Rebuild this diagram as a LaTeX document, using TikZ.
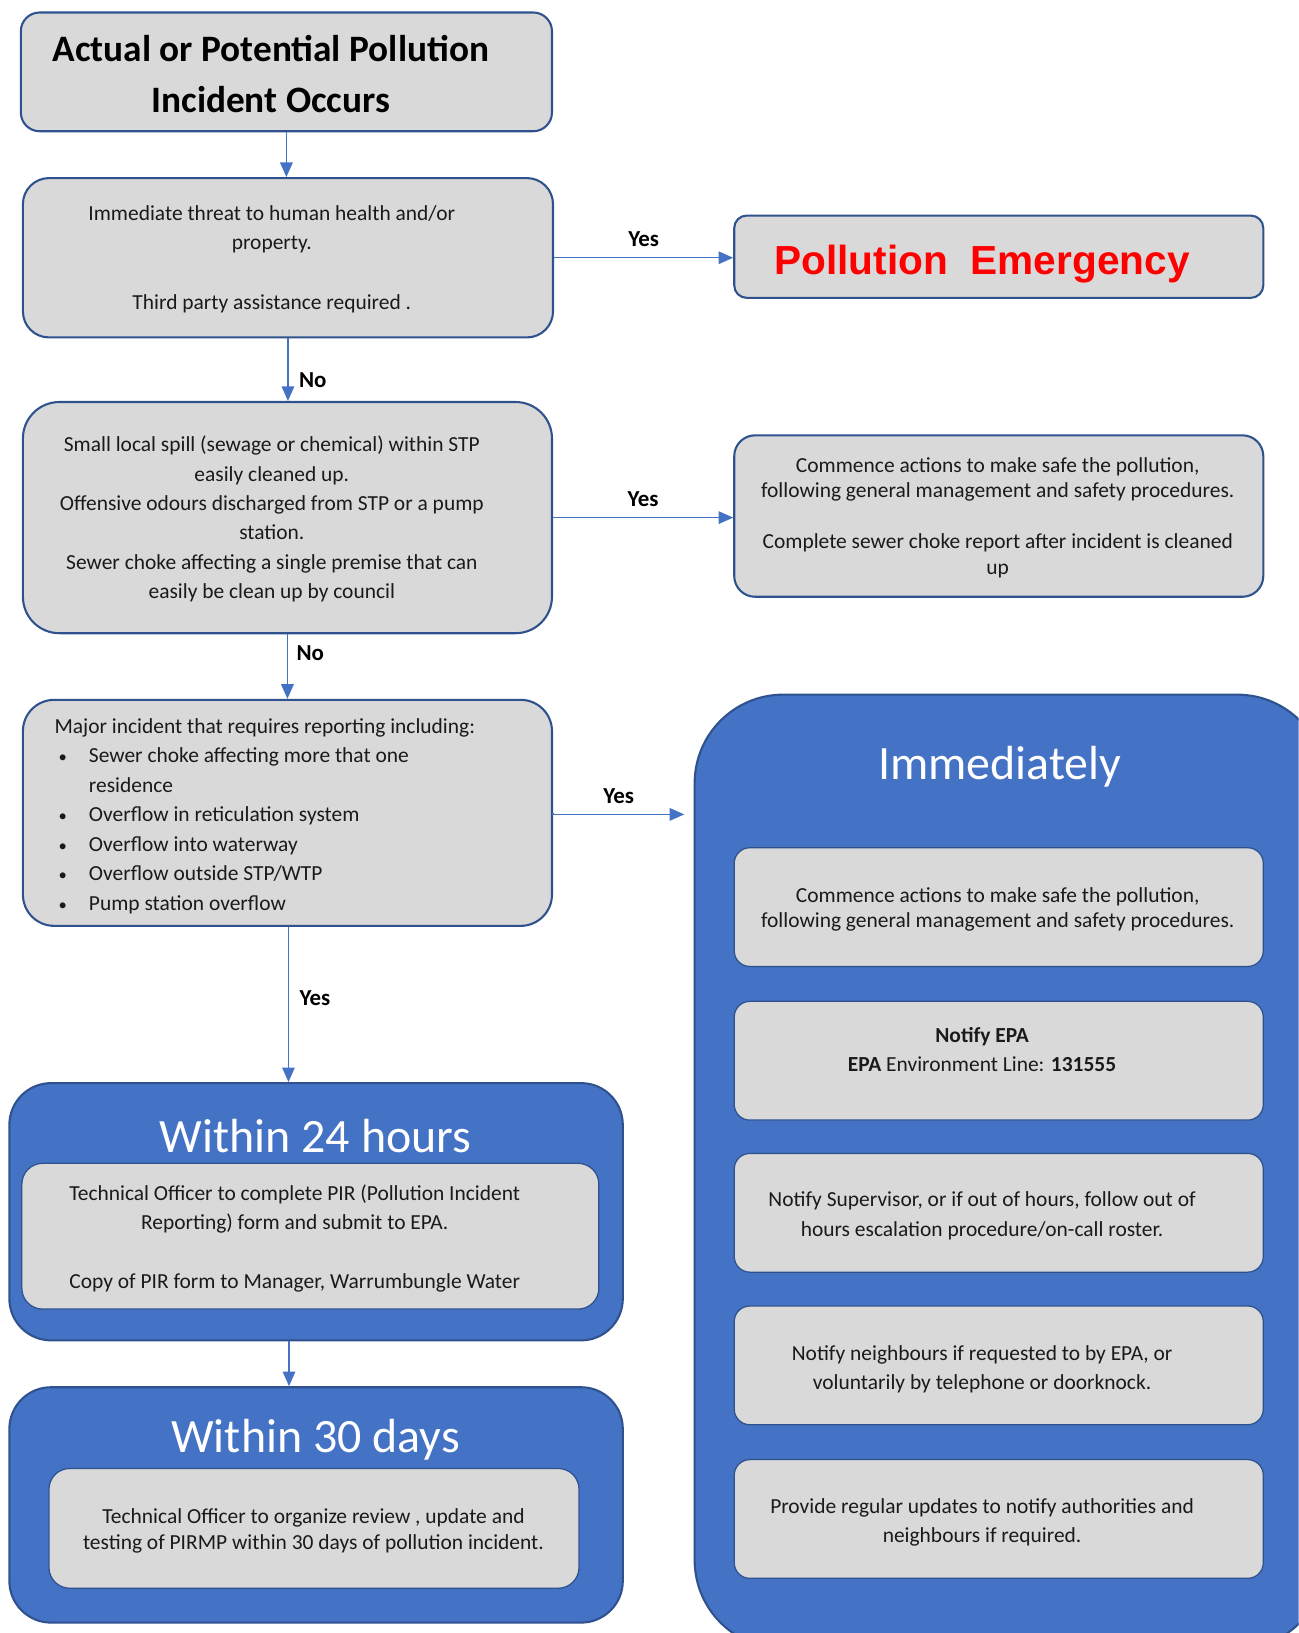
\documentclass[tikz,border=0pt]{standalone}
\usepackage{fontspec}
\setmainfont{Carlito}
\newfontfamily\arialfont{Liberation Sans}
\usetikzlibrary{arrows.meta}
\definecolor{boxgray}{HTML}{D9D9D9}
\definecolor{boxline}{HTML}{2F528F}
\definecolor{fillblue}{HTML}{4472C4}
\definecolor{arrowblue}{HTML}{4472C4}
\definecolor{pered}{HTML}{FF0000}
\definecolor{txtgray}{HTML}{1A1A1A}
\newcommand{\blt}{\hspace*{2pt}\makebox[14.5pt][l]{\fontsize{8}{8}\selectfont\textbullet}}
\begin{document}
\begin{tikzpicture}[x=0.5pt,y=-0.5pt,
  graybox/.style={rectangle, fill=boxgray, draw=boxline, line width=1pt, inner sep=0pt},
  innerbox/.style={rectangle, fill=boxgray, draw=boxline, line width=0.6pt, inner sep=0pt, rounded corners=7.5pt, minimum width=254pt, minimum height=57pt},
  bluebox/.style={rectangle, fill=fillblue, draw=boxline, line width=1pt, inner sep=0pt},
  body/.style={inner sep=0pt, align=center, text=txtgray},
  head/.style={inner sep=0pt, text=white, font=\fontsize{23}{27}\selectfont},
  lbl/.style={inner sep=0pt, font=\fontsize{11}{13}\selectfont\bfseries},
  arr/.style={draw=arrowblue, line width=0.7pt, -{Triangle[length=7pt,width=6pt]}}
]
\clip (0,0) rectangle (1247,1568);
\fill[white] (0,0) rectangle (1247,1568);

% ---- left column boxes
\node[graybox, rounded corners=9pt, minimum width=255pt, minimum height=57pt] (b1) at (275,69) {};
\node[body, font=\fontsize{17.9}{24.5}\selectfont\bfseries, text=black] (t1) at (260,71.5)
  {Actual or Potential Pollution\\Incident Occurs};

\node[graybox, rounded corners=12.5pt, minimum width=254.5pt, minimum height=76.5pt] (b2) at (276.5,247.5) {};
\node[body, font=\fontsize{10.3}{14.25}\selectfont] (t2) at (261,248.5)
  {Immediate threat to human health and/or\\property.\\\mbox{}\\Third party assistance required .};

\node[graybox, rounded corners=6pt, minimum width=254pt, minimum height=39.5pt] (pe) at (959,246.5) {};
\node[inner sep=0pt, font=\arialfont\fontsize{19.5}{23}\selectfont\bfseries, text=pered] (tpe) at (943,253.5)
  {Pollution\ \ Emergency};

\node[graybox, rounded corners=17.5pt, minimum width=254pt, minimum height=111pt] (b3) at (276,497) {};
\node[body, font=\fontsize{10.3}{14.1}\selectfont] (t3) at (261,498.5)
  {Small local spill (sewage or chemical) within STP\\easily cleaned up.\\Offensive odours discharged from STP or a pump\\station.\\Sewer choke affecting a single premise that can\\easily be clean up by council};

\node[graybox, rounded corners=10pt, minimum width=254pt, minimum height=77.5pt] (b4) at (959,495.5) {};
\node[body, font=\fontsize{10.3}{12.25}\selectfont] (t4) at (958,497)
  {Commence actions to make safe the pollution,\\following general management and safety procedures.\\\mbox{}\\Complete sewer choke report after incident is cleaned\\up};

\node[graybox, rounded corners=15pt, minimum width=254pt, minimum height=108.5pt] (b5) at (276,780.5) {};
\node[inner sep=0pt, align=left, text=txtgray, font=\fontsize{10.3}{14.15}\selectfont, anchor=west] (t5) at (52,783.5)
  {Major incident that requires reporting including:\\
   \blt Sewer choke affecting more that one\\
   \hspace*{16.5pt}residence\\
   \blt Overflow in reticulation system\\
   \blt Overflow into waterway\\
   \blt Overflow outside STP/WTP\\
   \blt Pump station overflow};

% ---- within 24 hours
\node[bluebox, rounded corners=20pt, minimum width=294.5pt, minimum height=123.5pt] (b24) at (303.5,1163.5) {};
\node[head] (h24) at (303,1091) {Within 24 hours};
\node[graybox, line width=0.6pt, rounded corners=10pt, minimum width=277pt, minimum height=70pt] (i24) at (298,1187) {};
\node[body, font=\fontsize{10.3}{14.15}\selectfont] (t24) at (283,1189)
  {Technical Officer to complete PIR (Pollution Incident\\Reporting) form and submit to EPA.\\\mbox{}\\Copy of PIR form to Manager, Warrumbungle Water};

% ---- within 30 days
\node[bluebox, rounded corners=20pt, minimum width=294.5pt, minimum height=113pt] (b30) at (303.5,1445) {};
\node[head] (h30) at (303,1382.5) {Within 30 days};
\node[graybox, line width=0.6pt, rounded corners=10pt, minimum width=254.5pt, minimum height=57.5pt] (i30) at (301.5,1467.5) {};
\node[body, font=\fontsize{10.3}{12.5}\selectfont] (t30) at (301,1470)
  {Technical Officer to organize review , update and\\testing of PIRMP within 30 days of pollution incident.};

% ---- immediately
\node[bluebox, rounded corners=42.5pt, minimum width=303pt, minimum height=458pt] (bim) at (970,1125) {};
\node[head] (him) at (960,736) {Immediately};
\node[innerbox] (ia) at (959,871) {};
\node[body, font=\fontsize{10.3}{12}\selectfont] (ta) at (958,873.5)
  {Commence actions to make safe the pollution,\\following general management and safety procedures.};
\node[innerbox] (ib) at (959,1018.5) {};
\node[body, font=\fontsize{10.3}{14}\selectfont] (tb) at (943,1007.5)
  {\textbf{Notify EPA}\\\textbf{EPA} Environment Line: \textbf{131555}};
\node[innerbox] (ic) at (959,1164.5) {};
\node[body, font=\fontsize{10.3}{14.5}\selectfont] (tc) at (943,1167)
  {Notify Supervisor, or if out of hours, follow out of\\hours escalation procedure/on-call roster.};
\node[innerbox] (id) at (959,1311) {};
\node[body, font=\fontsize{10.3}{14}\selectfont] (td) at (943,1314.5)
  {Notify neighbours if requested to by EPA, or\\voluntarily by telephone or doorknock.};
\node[innerbox] (ie) at (959,1458.5) {};
\node[body, font=\fontsize{10.3}{14}\selectfont] (te) at (943,1461.5)
  {Provide regular updates to notify authorities and\\neighbours if required.};

% ---- connectors
\coordinate (imin) at (657,782);
\draw[arr] (b1.south) -- (b1.south |- b2.north);
\draw[arr] (b2.east) -- (b2.east -| pe.west)
  node[lbl, midway, above=5pt] (l1) {Yes};
\draw[arr] (b2.south) -- (b2.south |- b3.north)
  node[lbl, pos=0.67, right=5pt] (l2) {No};
\draw[arr] (b3.east) -- (b3.east -| b4.west)
  node[lbl, midway, above=5pt] (l3) {Yes};
\draw[arr] (b3.south) -- (b3.south |- b5.north)
  node[lbl, pos=0.3, right=4pt] (l4) {No};
\draw[arr] (b5.east) -- (b5.east |- imin) -- (imin)
  node[lbl, pos=0.5, above=5pt] (l5) {Yes};
\draw[arr] ([xshift=0.5pt]b5.south) -- ([xshift=0.5pt]b5.south |- b24.north)
  node[lbl, pos=0.46, right=5pt] (l6) {Yes};
\draw[arr] ([xshift=-13pt]b24.south) -- ([xshift=-13pt]b24.south |- b30.north);
\end{tikzpicture}
\end{document}
